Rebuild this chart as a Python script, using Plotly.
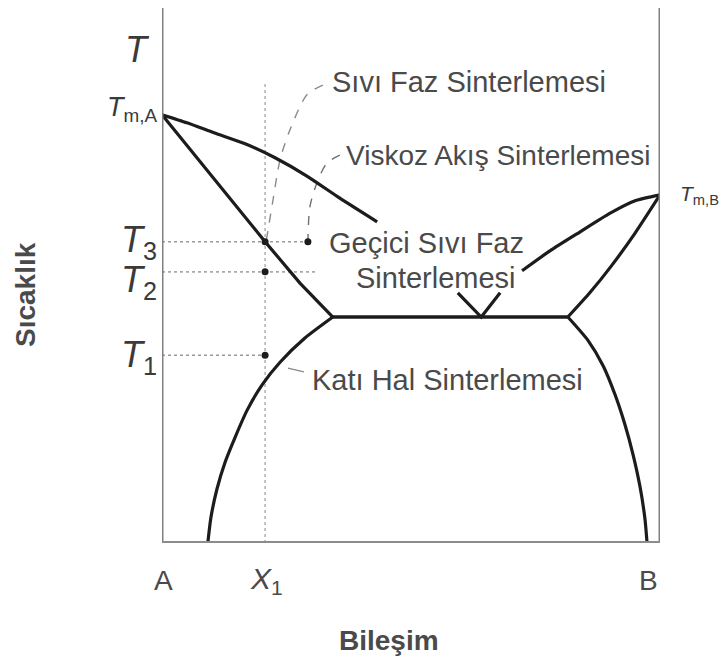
import plotly.graph_objects as go

# ---------------- data (composition % B, relative temperature) ----------------
X1 = 20.7
T1, T2, T3 = 34.9, 50.4, 56.0
TmA, TmB = 79.6, 64.7
T_eut = 42.0
x_eut_left, x_eut, x_eut_right = 34.3, 64.1, 81.5
x_visc = 29.3
x_T2_end = 31.1
x1_top = 85.5

liqA_x = [0, 5.0, 10.6, 16.7, 22.7, 29.1, 35.7, 43.2]
liqA_y = [TmA, 78.1, 76.2, 74.2, 71.6, 68.2, 64.1, 59.7]

solA_x = [0, 6.6, 13.3, 20.7, 27.7, x_eut_left]
solA_y = [TmA, 72.1, 64.3, 56.0, 48.3, T_eut]

liqV_x = [59.4, x_eut, 67.9]
liqV_y = [46.5, T_eut, 46.5]

liqB_x = [72.3, 77.9, 83.9, 90.0, 95.0, 100]
liqB_y = [50.6, 54.3, 57.8, 61.3, 63.6, TmB]

solB_x = [x_eut_right, 85.9, 90.4, 95.0, 100]
solB_y = [T_eut, 46.5, 51.7, 57.6, TmB]

eut_x = [x_eut_left, x_eut_right]
eut_y = [T_eut, T_eut]

solvA_x = [x_eut_left, 28.7, 23.7, 20.1, 17.1, 14.7, 12.7, 11.0, 9.8, 9.2]
solvA_y = [T_eut, 38.1, 33.6, 29.4, 24.7, 19.7, 15.1, 9.9, 4.6, 0]

solvB_x = [x_eut_right, 85.5, 88.6, 91.0, 93.0, 94.6, 96.0, 97.0, 97.4]
solvB_y = [T_eut, 37.7, 32.9, 27.5, 21.9, 16.4, 10.4, 4.3, 0]

lead_sivi_x = [32.3, 29.1, 25.7, 23.7, 22.3, 21.3, 20.9]
lead_sivi_y = [85.1, 83.3, 76.8, 71.2, 63.8, 58.2, T3]

lead_visk_x = [35.7, 33.1, 31.1, 29.7, x_visc]
lead_visk_y = [72.1, 70.6, 66.9, 62.5, T3]

lead_kati_x = [25.3, 28.5]
lead_kati_y = [32.5, 31.8]

dots_x = [X1, X1, X1, x_visc]
dots_y = [T3, T2, T1, T3]

# ---------------- figure ----------------
XMAX, YMAX = 100.0, 99.44
INK = "#1c1c1c"
AX = "#808080"
TXT = "#4a4a4a"
FONT = "Liberation Sans, Arial, sans-serif"

fig = go.Figure()

def curve(x, y, spline=True, width=3.2):
    fig.add_trace(go.Scatter(
        x=x, y=y, mode="lines",
        line=dict(color=INK, width=width,
                  shape="spline" if spline else "linear", smoothing=0.6),
        hoverinfo="skip", showlegend=False))

def guide(x, y, dash="dot", color="#9a9a9a", width=1.6, spline=False):
    fig.add_trace(go.Scatter(
        x=x, y=y, mode="lines",
        line=dict(color=color, width=width, dash=dash,
                  shape="spline" if spline else "linear", smoothing=0.8),
        hoverinfo="skip", showlegend=False))

guide([X1, X1], [0, x1_top], color="#b5b5b5", width=1.6)
guide([0, x_visc], [T3, T3])
guide([0, x_T2_end], [T2, T2], color="#aaaaaa")
guide([0, X1], [T1, T1])
guide(lead_sivi_x, lead_sivi_y, dash="dash", color="#8a8a8a", width=1.4, spline=True)
guide(lead_visk_x, lead_visk_y, dash="dash", color="#707070", width=1.4, spline=True)
guide(lead_kati_x, lead_kati_y, dash="solid", color="#8a8a8a", width=1.4)

curve(liqA_x, liqA_y)
curve(solA_x, solA_y, spline=False)
curve(liqV_x, liqV_y, spline=False)
curve(liqB_x, liqB_y)
curve(solB_x, solB_y)
curve(eut_x, eut_y, spline=False, width=3.6)
curve(solvA_x, solvA_y)
curve(solvB_x, solvB_y)

fig.add_trace(go.Scatter(
    x=dots_x, y=dots_y, mode="markers",
    marker=dict(color=INK, size=7),
    hoverinfo="skip", showlegend=False))

fig.add_shape(type="line", xref="x", yref="paper", x0=0, x1=0, y0=0, y1=1.0,
              line=dict(color=AX, width=3))
fig.add_shape(type="line", xref="x", yref="paper", x0=100, x1=100, y0=0, y1=1.0,
              line=dict(color=AX, width=3))
fig.add_shape(type="line", xref="x", yref="y", x0=0, x1=100, y0=0, y1=0,
              line=dict(color="#8c8c8c", width=4))

def ann(text, x, y, size=29, xanchor="left", yanchor="middle", angle=0,
        yshift=0, color=TXT):
    fig.add_annotation(text=text, x=x / XMAX, y=y / YMAX,
                       xref="paper", yref="paper",
                       showarrow=False, xanchor=xanchor, yanchor=yanchor,
                       textangle=angle, yshift=yshift,
                       font=dict(family=FONT, size=size, color=color))

ann("Sıvı Faz Sinterlemesi", 33.8, 85.7)
ann("Viskoz Akış Sinterlemesi", 36.6, 72.1, size=28)
ann("Geçici Sıvı Faz", 33.2, 55.8)
ann("Sinterlemesi", 38.6, 49.3)
ann("Katı Hal Sinterlemesi", 29.8, 30.3)

ann("<i>T</i>", -5.0, 91.8, size=36, xanchor="center", color="#3a3a3a")
ann("<i>T</i><sub>m,A</sub>", -0.6, 80.6, size=27, xanchor="right", color="#3a3a3a")
ann("<i>T</i><sub>3</sub>", -0.6, T3, size=36, xanchor="right", color="#3a3a3a")
ann("<i>T</i><sub>2</sub>", -0.6, T2, size=36, xanchor="right", yshift=-10, color="#3a3a3a")
ann("<i>T</i><sub>1</sub>", -0.6, T1, size=36, xanchor="right", yshift=-2, color="#3a3a3a")
ann("<i>T</i><sub>m,B</sub>", 103.6, TmB, size=21, xanchor="left", color="#3a3a3a")

ann("A", 0.4, -6.9, size=28, xanchor="center")
ann("<i>X</i><sub>1</sub>", 17.3, -6.9, size=30, xanchor="left")
ann("B", 97.6, -6.9, size=28, xanchor="center")

ann("<b>Bileşim</b>", 45.6, -18.2, size=28, xanchor="center")
ann("<b>Sıcaklık</b>", -27.3, 46.1, size=28, xanchor="center", angle=-90)

fig.update_layout(
    width=720, height=653,
    margin=dict(l=154, r=68, t=0, b=118),
    paper_bgcolor="white", plot_bgcolor="white",
    xaxis=dict(range=[0, XMAX], visible=False, fixedrange=True),
    yaxis=dict(range=[0, YMAX], visible=False, fixedrange=True),
    showlegend=False,
)

fig.write_html("out.html")
